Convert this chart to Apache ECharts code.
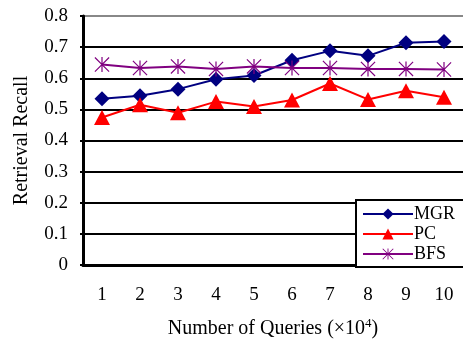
<!DOCTYPE html>
<html><head><meta charset="utf-8">
<script src="https://cdn.jsdelivr.net/npm/echarts@6/dist/echarts.min.js"></script>
<style>html,body{margin:0;padding:0;background:#fff}#c{width:463px;height:344px}</style>
</head><body><div id="c"></div>
<script>
const categories = ['1','2','3','4','5','6','7','8','9','10'];
const mgr = [0.534, 0.544, 0.565, 0.597, 0.609, 0.658, 0.688, 0.672, 0.714, 0.718];
const pc  = [0.474, 0.515, 0.489, 0.525, 0.509, 0.530, 0.583, 0.532, 0.560, 0.539];
const bfs = [0.644, 0.633, 0.638, 0.630, 0.638, 0.633, 0.633, 0.630, 0.630, 0.628];
const seriesNames = ['MGR', 'PC', 'BFS'];

const FONT = '"Liberation Serif", "Times New Roman", serif';
const star = 'path://M9.2 0 L10.8 0 L10.8 20 L9.2 20 Z M0 1.1 L1.1 0 L20 18.9 L18.9 20 Z M18.9 0 L20 1.1 L1.1 20 L0 18.9 Z';

const chart = echarts.init(document.getElementById('c'), null, {renderer: 'canvas'});
chart.setOption({
  animation: false,
  backgroundColor: '#fff',
  textStyle: {fontFamily: FONT, color: '#000'},
  grid: {left: 83, top: 16, width: 385, height: 256, containLabel: false},
  legend: {
    left: 356, top: 200, orient: 'vertical',
    data: seriesNames,
    itemWidth: 50, itemHeight: 14, itemGap: 2,
    padding: [5, 20, 4, 6],
    borderColor: '#000', borderWidth: 2, backgroundColor: '#fff',
    textStyle: {fontFamily: FONT, fontSize: 18, lineHeight: 17, color: '#000', padding: [0, 0, 0, -4]}
  },
  xAxis: {
    type: 'category', data: categories, boundaryGap: true,
    axisLine: {lineStyle: {color: '#000', width: 3}},
    axisTick: {inside: true, length: 5, lineStyle: {color: '#000', width: 2}},
    axisLabel: {fontFamily: FONT, fontSize: 19, color: '#000', margin: 21},
    name: '{a|Number of Queries (×10}{s|4}{a|)}',
    nameLocation: 'middle', nameGap: 52,
    nameTextStyle: {
      rich: {
        a: {fontFamily: FONT, fontSize: 20, color: '#000', verticalAlign: 'bottom'},
        s: {fontFamily: FONT, fontSize: 13, color: '#000', verticalAlign: 'top', padding: [0, 0, 9, 0]}
      }
    }
  },
  yAxis: {
    type: 'value', min: 0, max: 0.8, interval: 0.1,
    axisLine: {show: true, lineStyle: {color: '#000', width: 3}},
    axisTick: {show: true, length: 3, lineStyle: {color: '#000', width: 2}},
    axisLabel: {fontFamily: FONT, fontSize: 19, color: '#000', margin: 15,
      formatter: v => v === 0 ? '0' : v.toFixed(1)},
    splitLine: {lineStyle: {color: ['#000','#000','#000','#000','#000','#000','#000','#000','#888'], width: 2}},
    name: 'Retrieval Recall', nameLocation: 'middle', nameGap: 51, nameRotate: 90,
    nameTextStyle: {fontFamily: FONT, fontSize: 20, color: '#000'}
  },
  series: [
    {name: 'MGR', type: 'line', data: mgr, symbol: 'diamond', symbolSize: 15,
      color: '#000080', lineStyle: {color: '#000080', width: 2}, itemStyle: {color: '#000080'}},
    {name: 'PC', type: 'line', data: pc, symbol: 'triangle', symbolSize: [16, 15],
      color: '#ff0000', lineStyle: {color: '#ff0000', width: 2}, itemStyle: {color: '#ff0000'}},
    {name: 'BFS', type: 'line', data: bfs, symbol: star, symbolSize: 15,
      color: '#800080', lineStyle: {color: '#800080', width: 2}, itemStyle: {color: '#800080'}}
  ]
});
</script></body></html>
